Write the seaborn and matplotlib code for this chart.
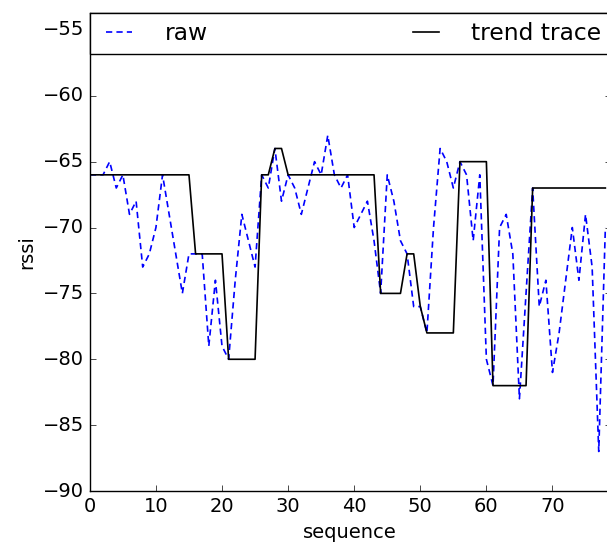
import numpy as np
import pandas as pd
import seaborn as sns
import matplotlib
matplotlib.use("Agg")
import matplotlib.pyplot as plt

sequence = list(range(79))
raw = [-66, -66, -66, -65, -67, -66, -69, -68, -73, -72,
       -70, -66, -69, -72, -75, -72, -72, -72, -79, -74,
       -79, -80, -74, -69, -71, -73, -66, -67, -64, -68,
       -66, -67, -69, -67, -65, -66, -63, -66, -67, -66,
       -70, -69, -68, -71, -75, -66, -68, -71, -72, -76,
       -76, -78, -70, -64, -65, -67, -65, -66, -71, -66,
       -80, -82, -70, -69, -72, -83, -75, -67, -76, -74,
       -81, -78, -74, -70, -74, -69, -73, -87, -70]
trend = ([-66] * 16 + [-72] * 5 + [-80] * 5 + [-66] * 2 + [-64] * 2
         + [-66] * 14 + [-75] * 4 + [-72] * 2 + [-76] + [-78] * 5
         + [-65] * 5 + [-82] * 6 + [-67] * 12)

data = pd.DataFrame({"sequence": sequence, "raw": raw, "trend": trend})

plt.style.use("classic")
plt.rcParams["font.size"] = 14
fig = plt.figure(figsize=(6.07, 5.49), dpi=100, facecolor="white")
ax = fig.add_axes([0.148, 0.1056, 0.858, 0.8716])

sns.lineplot(x="sequence", y="raw", data=data, ax=ax, color="b",
             linestyle="--", linewidth=1.2, label="raw")
sns.lineplot(x="sequence", y="trend", data=data, ax=ax, color="k",
             linewidth=1.2, label="trend trace")
# gęstsze kreski jak w oryginale
ax.lines[0].set_dashes((4.5, 3))

ax.set_xlim(0, 78.8)
ax.set_ylim(-90, -53.68)
ax.set_yticks(np.arange(-90, -54, 5))
ax.set_xticks(np.arange(0, 71, 10))
ax.set_xlabel("sequence")
ax.set_ylabel("rssi")
ax.legend(loc="upper left", bbox_to_anchor=(0, 0, 1, 1), mode="expand",
          ncol=2, borderaxespad=0, handlelength=1.7, handletextpad=1.1)

fig.savefig("out.png", dpi=100, facecolor="white")
